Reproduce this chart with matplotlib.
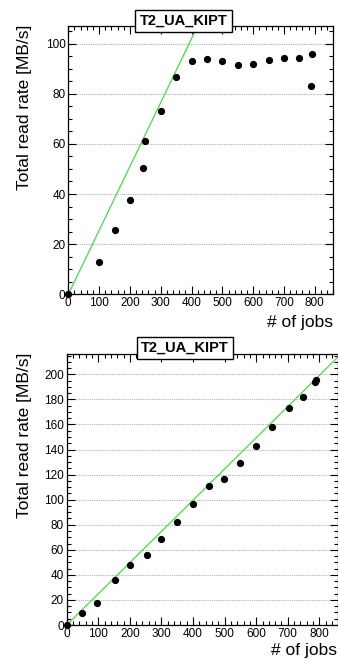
import matplotlib
matplotlib.use('Agg')
import matplotlib.pyplot as plt
from matplotlib.ticker import MultipleLocator

plt.rcParams['font.family'] = ['Liberation Sans', 'DejaVu Sans']

# panel 1: read rate saturating
jobs_top = [0, 100, 150, 200, 243, 248, 300, 350, 400, 450, 500, 550, 600, 650, 700, 750, 788, 791]
rate_top = [0, 13.0, 25.6, 37.8, 50.2, 61.2, 73.0, 86.5, 93.0, 93.9, 93.2, 91.6, 91.9, 93.6, 94.2, 94.2, 83.1, 96.0]
slope_top = 0.255

# panel 2: read rate scaling
jobs_bot = [0, 47, 97, 153, 200, 253, 299, 348, 401, 452, 498, 549, 599, 650, 703, 749, 786, 788]
rate_bot = [0, 9.6, 17.3, 35.6, 47.6, 55.6, 68.9, 82.4, 96.8, 111.2, 116.8, 129.3, 143.1, 158.0, 172.9, 181.9, 193.6, 195.5]
slope_bot = 0.249

site = 'T2_UA_KIPT'
W, H = 338, 659

fig = plt.figure(figsize=(W / 100, H / 100), dpi=100)


def panel(rect, jobs, rate, slope, xmax, ymax, ystep, title_xy, ylab_xy, xlab_xy, xlab_va='center'):
  ax = fig.add_axes(rect)
  ax.plot([0, xmax], [0, slope * xmax], color='#5cd65c', lw=1.0, zorder=2)
  ax.plot(jobs, rate, 'o', color='black', ms=4.2, zorder=3, clip_on=False)
  ax.set_xlim(0, xmax)
  ax.set_ylim(0, ymax)
  ax.xaxis.set_major_locator(MultipleLocator(100))
  ax.xaxis.set_minor_locator(MultipleLocator(20))
  ax.yaxis.set_major_locator(MultipleLocator(ystep))
  ax.yaxis.set_minor_locator(MultipleLocator(5))
  ax.tick_params(which='both', direction='in', top=True, right=True, labelsize=8.5, pad=2)
  ax.tick_params(which='major', length=6, width=0.8)
  ax.tick_params(which='minor', length=3, width=0.8)
  ax.grid(axis='y', which='major', linestyle=(0, (1, 1)), color='#b0b0b0', lw=0.8)
  for s in ax.spines.values():
    s.set_linewidth(0.9)
  fig.text(title_xy[0], title_xy[1], site, ha='center', va='center', fontsize=10.5, fontweight='bold',
           bbox=dict(boxstyle='square,pad=0.3', fc='white', ec='black', lw=1.0))
  fig.text(ylab_xy[0], ylab_xy[1], 'Total read rate [MB/s]', rotation=90, ha='center', va='top', fontsize=12.5)
  fig.text(xlab_xy[0], xlab_xy[1], '# of jobs', ha='right', va=xlab_va, fontsize=12.5)
  return ax


panel([68.3 / W, 364.7 / H, 265 / W, 268.3 / H], jobs_top, rate_top, slope_top, 860, 107, 20,
      (183.5 / W, 1 - 21 / H), (25 / W, 1 - 25 / H), (333 / W, 1 - 322 / H))
panel([66.7 / W, 34 / H, 271.3 / W, 270.7 / H], jobs_bot, rate_bot, slope_bot, 859, 216, 20,
      (185 / W, 1 - 348 / H), (25 / W, 1 - 353 / H), (337 / W, 0.002), xlab_va='bottom')

plt.savefig('out.png', dpi=100)
plt.close()
